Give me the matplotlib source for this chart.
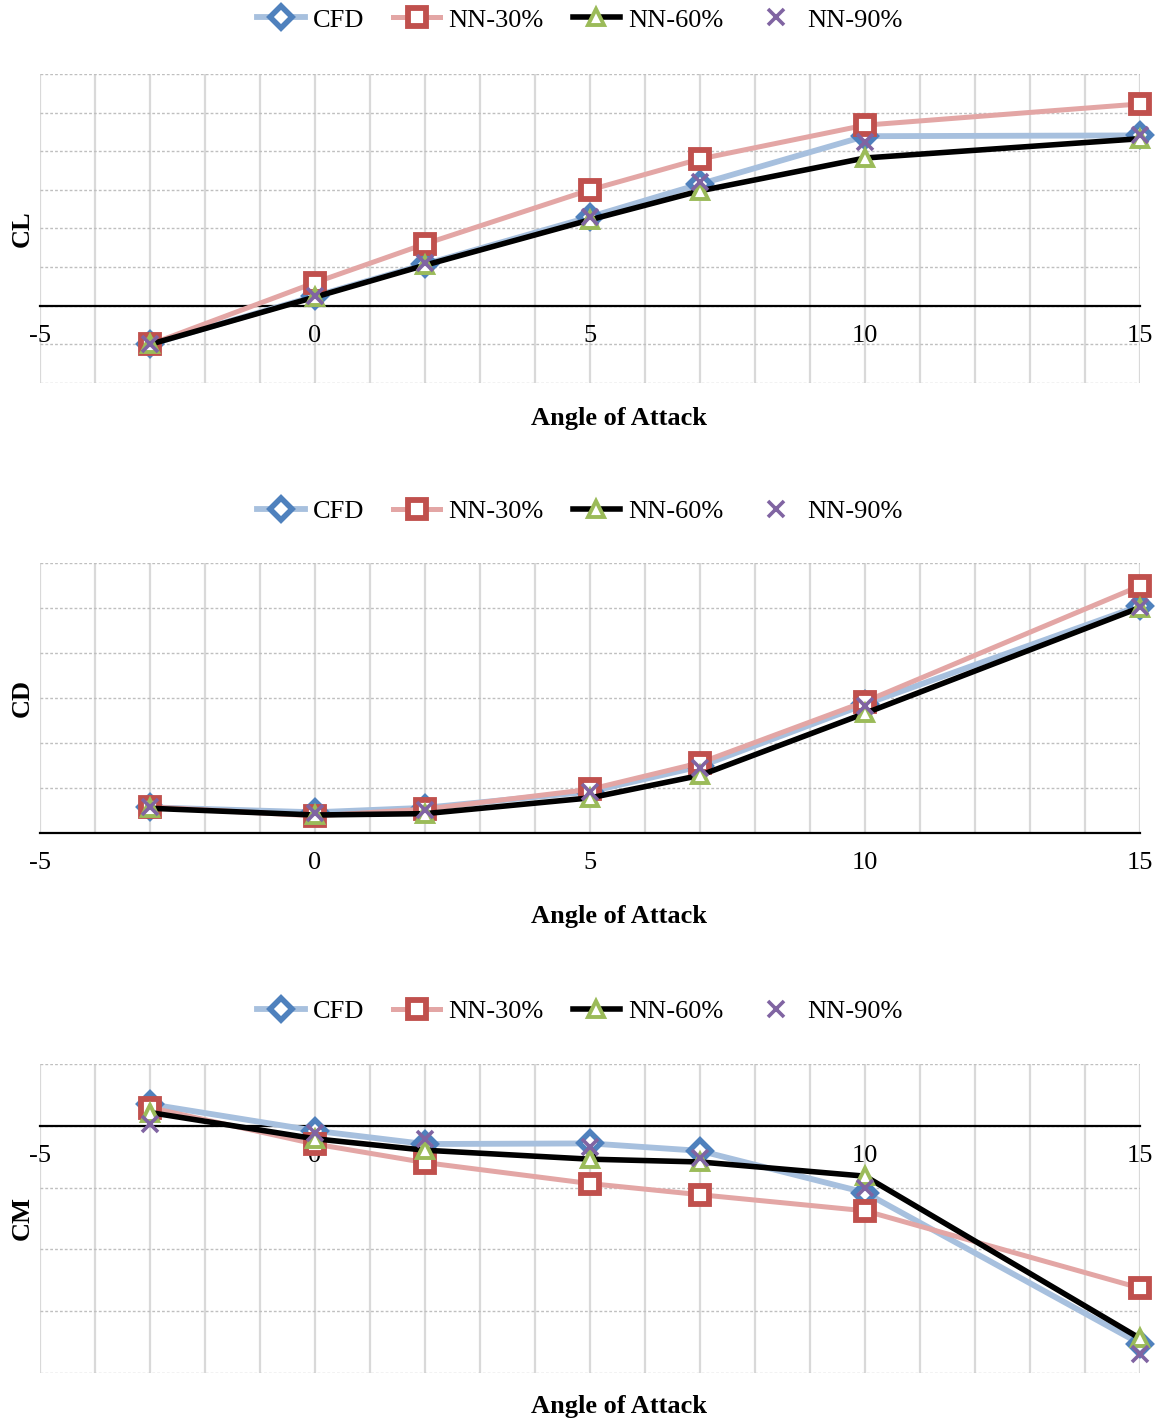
import matplotlib
matplotlib.use("Agg")
import matplotlib.pyplot as plt

plt.rcParams['font.family'] = ['Liberation Serif', 'DejaVu Serif']
plt.rcParams['axes.unicode_minus'] = False

# ---------------- data ----------------
aoa = [-3, 0, 2, 5, 7, 10, 15]
series_names = ["CFD", "NN-30%", "NN-60%", "NN-90%"]

cl_cfd  = [-0.20, 0.050, 0.215, 0.460, 0.630, 0.878, 0.882]
cl_nn30 = [-0.20, 0.120, 0.320, 0.600, 0.760, 0.935, 1.045]
cl_nn60 = [-0.20, 0.045, 0.210, 0.445, 0.595, 0.765, 0.865]
cl_nn90 = [-0.20, 0.050, 0.220, 0.460, 0.640, 0.850, 0.885]

cd_cfd  = [0.0057, 0.0046, 0.0056, 0.0092, 0.0148, 0.0286, 0.0505]
cd_nn30 = [0.0058, 0.0038, 0.0053, 0.0097, 0.0156, 0.0292, 0.0549]
cd_nn60 = [0.0055, 0.0040, 0.0043, 0.0078, 0.0128, 0.0266, 0.0501]
cd_nn90 = [0.0057, 0.0044, 0.0052, 0.0090, 0.0145, 0.0282, 0.0503]

cm_cfd  = [0.0070, -0.0016, -0.0059, -0.0057, -0.0081, -0.0216, -0.0705]
cm_nn30 = [0.0059, -0.0059, -0.0119, -0.0187, -0.0223, -0.0275, -0.0525]
cm_nn60 = [0.0043, -0.0042, -0.0079, -0.0108, -0.0117, -0.0163, -0.0688]
cm_nn90 = [0.0007, -0.0022, -0.0043, -0.0070, -0.0103, -0.0200, -0.0739]

x_major = [-5, 0, 5, 10, 15]
x_minor = list(range(-5, 16))

panels = [
    ("CL", [cl_cfd, cl_nn30, cl_nn60, cl_nn90], (-0.4, 1.2), 0.2),
    ("CD", [cd_cfd, cd_nn30, cd_nn60, cd_nn90], (0.0, 0.06), 0.01),
    ("CM", [cm_cfd, cm_nn30, cm_nn60, cm_nn90], (-0.08, 0.02), 0.02),
]

# ---------------- styles ----------------
styles = [
    dict(color="#a7c0de", lw=4.2, marker="D", ms=11, mec="#4f81bd", mfc="white", mew=4.0),
    dict(color="#e3a6a5", lw=3.6, marker="s", ms=13, mec="#c0504d", mfc="white", mew=4.2),
    dict(color="black", lw=4.0, marker="^", ms=12, mec="#9bbb59", mfc="white", mew=2.8),
    dict(color="none", lw=0, marker="x", ms=11, mec="#8064a2", mfc="#8064a2", mew=2.6),
]

W, H = 1161, 1423
fig = plt.figure(figsize=(W / 100, H / 100), dpi=100)

# pixel layout: (top, bottom, legend_y, xlabel_y)
layout = [
    (74, 383, 20, 418),
    (563, 833, 511, 916),
    (1064, 1373, 1011, 1407),
]
left_px, right_px = 40, 1140

for (name, data, ylim, ystep), (top, bot, leg_y, xl_y) in zip(panels, layout):
    ax = fig.add_axes([left_px / W, 1 - bot / H, (right_px - left_px) / W, (bot - top) / H])
    ax.set_xlim(-5, 15)
    ax.set_ylim(*ylim)

    n = int(round((ylim[1] - ylim[0]) / ystep))
    yt = [ylim[0] + i * ystep for i in range(n + 1)]
    ax.set_yticks(yt)
    ax.set_xticks(x_major)
    ax.set_xticks(x_minor, minor=True)
    ax.set_xticklabels([str(v) for v in x_major])

    ax.grid(which="both", axis="x", color="#d9d9d9", lw=1.6, ls="-")
    ax.grid(which="major", axis="y", color="#bfbfbf", lw=1.0, ls=(0, (2, 1.5)))
    ax.set_axisbelow(True)

    for s in ["top", "right", "left"]:
        ax.spines[s].set_visible(False)
    ax.spines["bottom"].set_position(("data", 0))
    ax.spines["bottom"].set_color("black")
    ax.spines["bottom"].set_linewidth(1.6)
    ax.spines["bottom"].set_zorder(1.5)

    ax.tick_params(axis="y", left=False, labelleft=False)
    ax.tick_params(axis="x", which="both", length=0, labelsize=19, pad=14)

    handles = []
    for vals, st, lab in zip(data, styles, series_names):
        h, = ax.plot(aoa, vals, label=lab, clip_on=False, zorder=3, **st)
        handles.append(h)

    fig.legend(handles=handles, loc="center", bbox_to_anchor=(580 / W, 1 - leg_y / H),
               ncol=4, frameon=False, fontsize=19, handlelength=1.8,
               handletextpad=0.3, columnspacing=1.1, borderaxespad=0)

    fig.text(619 / W, 1 - xl_y / H, "Angle of Attack", ha="center", va="center",
             fontsize=19, fontweight="bold")
    fig.text(22 / W, 1 - ((top + bot) / 2) / H, name, ha="center", va="center",
             rotation=90, fontsize=19, fontweight="bold")

fig.savefig("out.png", dpi=100)
